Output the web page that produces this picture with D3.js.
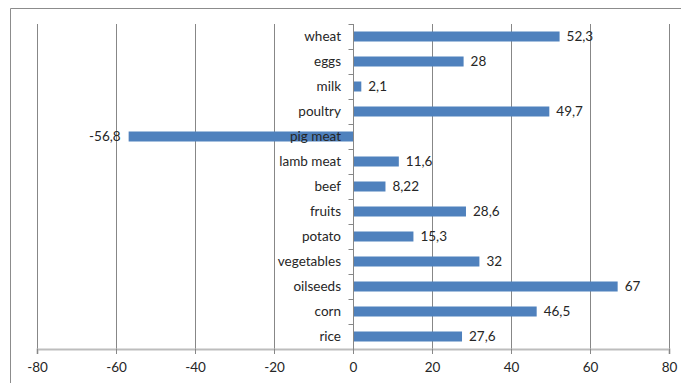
<!DOCTYPE html>
<html>
<head>
<meta charset="utf-8">
<script src="https://cdn.jsdelivr.net/npm/d3@7"></script>
<style>
  body { margin: 0; background: #fff; }
  svg text { font-family: Lato, "Open Sans", sans-serif; font-size: 13.5px; fill: #262626; }
</style>
</head>
<body>
<div id="chart"></div>
<script>
const categories = ["wheat", "eggs", "milk", "poultry", "pig meat", "lamb meat", "beef",
                    "fruits", "potato", "vegetables", "oilseeds", "corn", "rice"];
const values = [52.3, 28, 2.1, 49.7, -56.8, 11.6, 8.22, 28.6, 15.3, 32, 67, 46.5, 27.6];
const labels = ["52,3", "28", "2,1", "49,7", "-56,8", "11,6", "8,22", "28,6", "15,3", "32", "67", "46,5", "27,6"];
const xTicks = [-80, -60, -40, -20, 0, 20, 40, 60, 80];

const width = 681, height = 383;
const margin = {top: 24, left: 37};
const innerW = 669 - 37, innerH = 349 - 24;

const data = categories.map((c, i) => ({cat: c, value: values[i], label: labels[i]}));

const svg = d3.select("#chart").append("svg")
    .attr("width", width)
    .attr("height", height);

// chart frame
svg.append("path")
    .attr("d", "M10.5," + height + "V8.5H" + width)
    .attr("fill", "none")
    .attr("stroke", "#8c8c8c")
    .attr("stroke-width", 1);

const g = svg.append("g")
    .attr("transform", "translate(" + margin.left + "," + margin.top + ")");

const xScale = d3.scaleLinear().domain([-80, 80]).range([0, innerW]);
const yScale = d3.scaleBand().domain(categories).range([0, innerH]).paddingInner(0.6).paddingOuter(0.3);

// vertical gridlines
g.append("g").selectAll("line")
    .data(xTicks)
    .join("line")
    .attr("x1", d => Math.round(xScale(d)) + 0.5)
    .attr("x2", d => Math.round(xScale(d)) + 0.5)
    .attr("y1", 0)
    .attr("y2", innerH)
    .attr("stroke", "#878787");

// bottom axis
const xAxisG = g.append("g")
    .attr("transform", "translate(0," + innerH + ")")
    .call(d3.axisBottom(xScale).tickValues(xTicks).tickSize(5).tickPadding(8).tickFormat(d3.format("d")));
xAxisG.select(".domain").attr("stroke", "#bdbdbd").attr("stroke-width", 2);
xAxisG.selectAll(".tick line").attr("stroke", "#878787");
xAxisG.selectAll("text").style("font-size", "13.5px").attr("fill", "#262626")
    .text(d => d < 0 ? "-" + Math.abs(d) : d);

// bars
g.append("g").selectAll("rect")
    .data(data)
    .join("rect")
    .attr("x", d => xScale(Math.min(0, d.value)))
    .attr("y", d => yScale(d.cat))
    .attr("width", d => Math.abs(xScale(d.value) - xScale(0)))
    .attr("height", yScale.bandwidth())
    .attr("fill", "#4f81bd");

// category axis at zero
const x0 = Math.round(xScale(0)) + 0.5;
g.append("line")
    .attr("x1", x0).attr("x2", x0)
    .attr("y1", 0).attr("y2", innerH)
    .attr("stroke", "#878787");

const step = yScale.step();
g.append("g").selectAll("line")
    .data(d3.range(categories.length))
    .join("line")
    .attr("x1", x0 - 5).attr("x2", x0)
    .attr("y1", i => Math.round(i * step) + 0.5)
    .attr("y2", i => Math.round(i * step) + 0.5)
    .attr("stroke", "#878787");

// category labels
g.append("g").selectAll("text")
    .data(data)
    .join("text")
    .attr("x", xScale(0) - 12)
    .attr("y", d => yScale(d.cat) + yScale.bandwidth() / 2)
    .attr("dy", "0.35em")
    .attr("text-anchor", "end")
    .text(d => d.cat);

// value labels
g.append("g").selectAll("text")
    .data(data)
    .join("text")
    .attr("x", d => d.value >= 0 ? xScale(d.value) + 7 : xScale(d.value) - 8)
    .attr("y", d => yScale(d.cat) + yScale.bandwidth() / 2)
    .attr("dy", "0.35em")
    .attr("text-anchor", d => d.value >= 0 ? "start" : "end")
    .text(d => d.label);
</script>
</body>
</html>
